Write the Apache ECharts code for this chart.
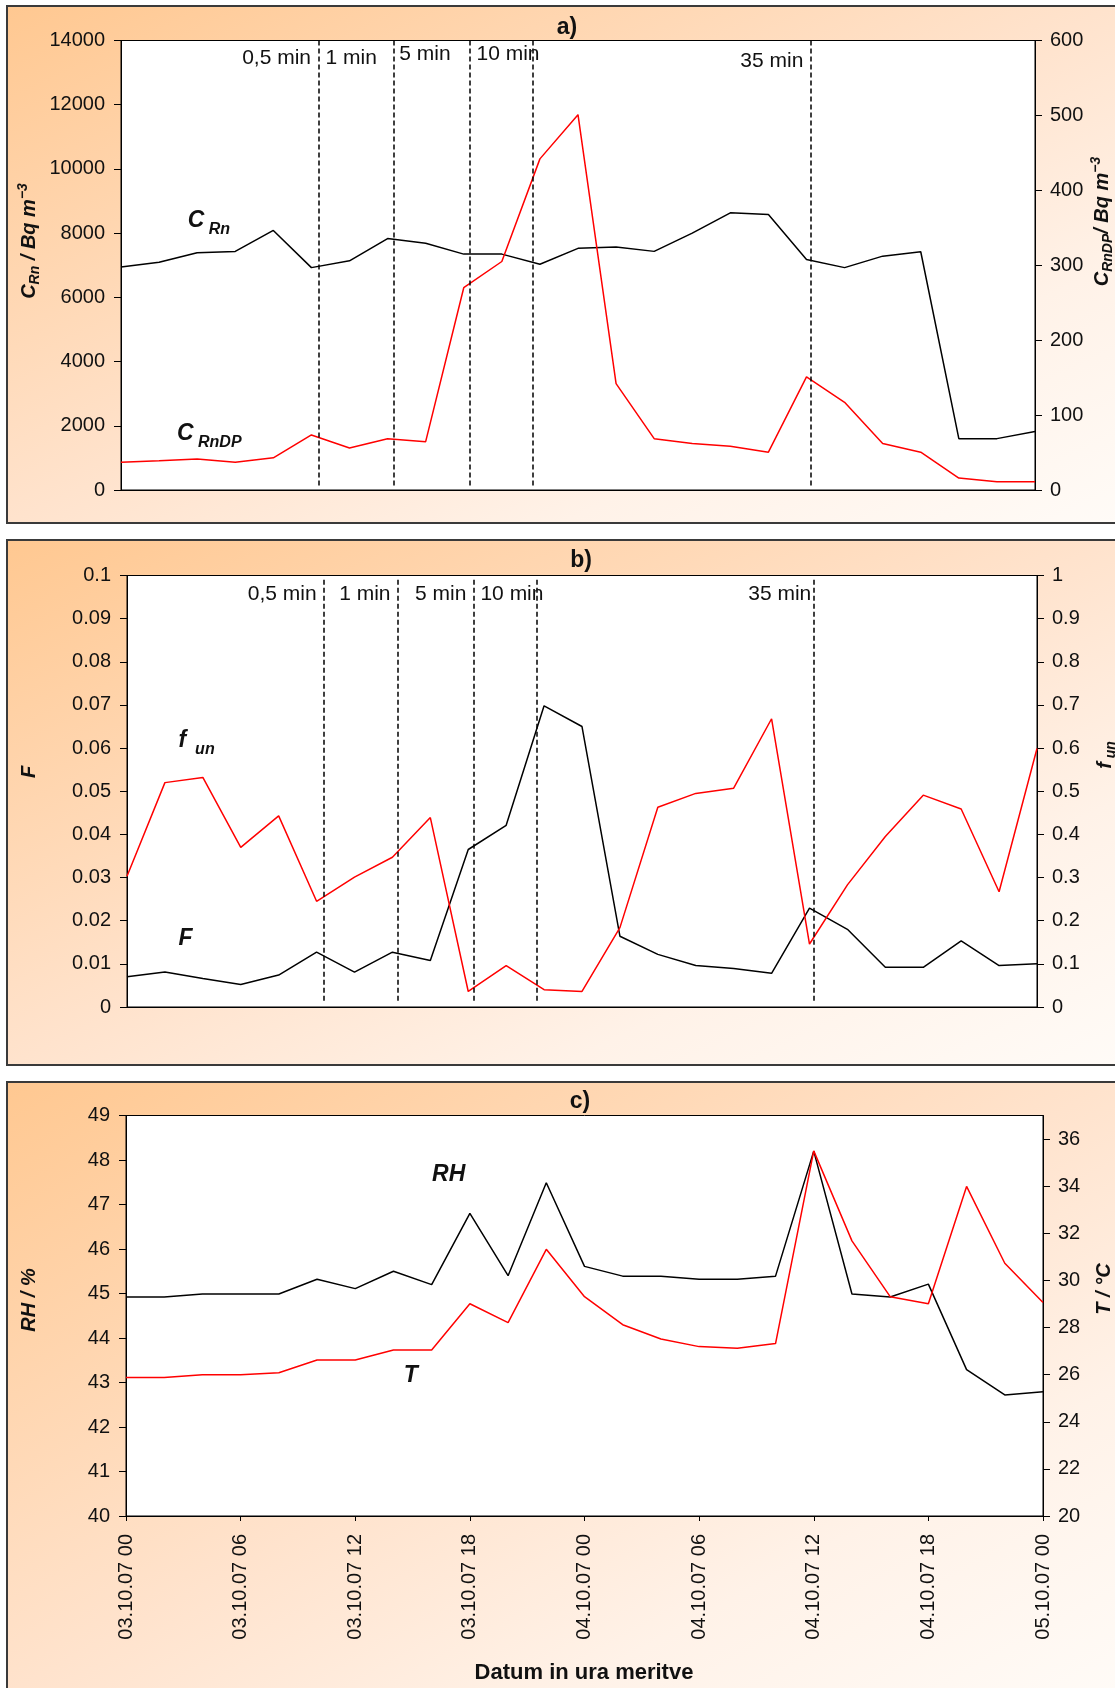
<!DOCTYPE html>
<html><head><meta charset="utf-8">
<script src="https://cdn.jsdelivr.net/npm/echarts@6/dist/echarts.min.js"></script>
<style>html,body{margin:0;padding:0;background:#fff}#c{width:1115px;height:1688px}</style>
</head><body><div id="c"></div>
<script>
// ---------------- data ----------------
const timeLabels = [
 '03.10.07 00','03.10.07 02','03.10.07 04','03.10.07 06','03.10.07 08','03.10.07 10',
 '03.10.07 12','03.10.07 14','03.10.07 16','03.10.07 18','03.10.07 20','03.10.07 22',
 '04.10.07 00','04.10.07 02','04.10.07 04','04.10.07 06','04.10.07 08','04.10.07 10',
 '04.10.07 12','04.10.07 14','04.10.07 16','04.10.07 18','04.10.07 20','04.10.07 22',
 '05.10.07 00'];
const cRn   = [6947,7095,7389,7432,8084,6926,7137,7832,7684,7347,7347,7032,7526,7568,7432,8000,8632,8579,7179,6926,7284,7421,1600,1600,1821];
const cRnDP = [37,39,41.5,37,43,73.5,56,68.5,64.5,270,305,442,501,142,68.5,62,58.5,50.5,151,117,62,50.5,16,11,11];
const F     = [0.0070,0.0081,0.0066,0.0052,0.0074,0.0127,0.0081,0.0127,0.0108,0.0365,0.0421,0.0698,0.0650,0.0164,0.0122,0.0096,0.0089,0.0078,0.0229,0.0180,0.0092,0.0092,0.0153,0.0096,0.0100];
const fun   = [0.303,0.520,0.532,0.370,0.443,0.245,0.301,0.347,0.439,0.036,0.096,0.040,0.036,0.184,0.463,0.495,0.507,0.668,0.146,0.283,0.395,0.491,0.459,0.267,0.599];
const RH    = [44.92,44.92,44.99,44.99,44.99,45.32,45.11,45.50,45.20,46.80,45.40,47.49,45.61,45.39,45.39,45.32,45.32,45.39,48.20,44.99,44.92,45.21,43.29,42.72,42.79];
const T     = [25.88,25.88,26.0,26.0,26.08,26.62,26.62,27.05,27.05,29.01,28.21,31.32,29.31,28.12,27.51,27.19,27.12,27.32,35.50,31.68,29.31,29.01,33.99,30.73,29.06];
// sampling-interval changes (in units of the measurement index)
const intervalChanges = [5.2, 7.15, 9.15, 10.8, 18.1];
const intervalLabels  = ['0,5 min','1 min','5 min','10 min','35 min'];
const tRightTicks = [20,22,24,26,28,30,32,34,36];

// ---------------- layout ----------------
const FONT = '"Liberation Sans", Arial, Helvetica, sans-serif';
const GRIDS = [
  {left:121, top:40.5,  width:914, height:449.5},
  {left:127, top:575.5, width:910, height:431.5},
  {left:126, top:1115.5,width:917, height:400.5}
];
const PANELS = [
  {x:7, y:6,    w:1115, h:517},
  {x:7, y:540,  w:1115, h:525},
  {x:7, y:1082, w:1115, h:612}
];
const lbl = {fontFamily:FONT, fontSize:20, color:'#111'};
const pair = arr => arr.map((v,i)=>[i,v]);

function xAx(gi){
  const show = gi === 2;
  return {
    type:'value', gridIndex:gi, min:0, max:24, interval:3,
    axisLine:{show:true, onZero:false, lineStyle:{color:'#000', width:1}},
    axisTick:{show:show, length:5, lineStyle:{color:'#000', width:1}},
    axisLabel:Object.assign({show:show, rotate:90, margin:18, formatter:v=>timeLabels[v]||''}, lbl),
    splitLine:{show:false}
  };
}
function yAx(gi, pos, min, max, interval, fmt, extraTick, extraLabel){
  return {
    type:'value', gridIndex:gi, position:pos, min:min, max:max, interval:interval,
    axisLine:{show:true, onZero:false, lineStyle:{color:'#000', width:1}},
    axisTick:Object.assign({show:true, inside:false, length:7, lineStyle:{color:'#000', width:1}}, extraTick||{}),
    axisLabel:Object.assign({margin:pos==='left'?16:15, formatter:fmt}, lbl, extraLabel||{}),
    splitLine:{show:false}
  };
}
function vLines(ytop, ybot){
  return {silent:true, symbol:['none','none'], animation:false, label:{show:false},
    emphasis:{disabled:true},
    lineStyle:{color:'#000', type:[5,3], width:1.5},
    data:intervalChanges.map(x=>[{coord:[x,ytop]},{coord:[x,ybot]}])};
}
function line(name, data, xi, yi, color, ml){
  const s = {name:name, type:'line', xAxisIndex:xi, yAxisIndex:yi, data:pair(data),
    symbol:'none', smooth:false, lineStyle:{color:color, width:1.5}, itemStyle:{color:color},
    emphasis:{disabled:true}, silent:true, z:3};
  if (ml) s.markLine = ml;
  return s;
}

const chart = echarts.init(document.getElementById('c'));
const option = {
  animation:false,
  backgroundColor:'#fff',
  grid:GRIDS.map(g=>Object.assign({show:true, backgroundColor:'#fff', borderColor:'#000', borderWidth:1, containLabel:false}, g)),
  xAxis:[xAx(0), xAx(1), xAx(2)],
  yAxis:[
    yAx(0,'left',0,14000,2000, v=>String(v)),
    yAx(0,'right',0,600,100, v=>String(v)),
    yAx(1,'left',0,0.1,0.01, v=>String(+v.toFixed(2))),
    yAx(1,'right',0,1,0.1, v=>String(+v.toFixed(1))),
    yAx(2,'left',40,49,1, v=>String(v)),
    yAx(2,'right',20,37,2, v=>(v>36?'':String(v)), {customValues:tRightTicks}, {customValues:tRightTicks})
  ],
  series:[
    line('CRn', cRn, 0, 0, '#000', vLines(14000, 90)),
    line('CRnDP', cRnDP, 0, 1, '#ff0000'),
    line('F', F, 1, 2, '#000', vLines(0.099, 0.0014)),
    line('fun', fun, 1, 3, '#ff0000'),
    line('RH', RH, 2, 4, '#000'),
    line('T', T, 2, 5, '#ff0000')
  ]
};
chart.setOption(option);

// ---------------- decorations ----------------
const G = [];
PANELS.forEach(p=>{
  const W = 1108, H = p.h;
  const k = 2*W*H/(W*W+H*H);
  G.push({type:'rect', z:-10, silent:true, shape:{x:p.x, y:p.y, width:p.w, height:p.h},
    style:{fill:{type:'linear', global:true, x:p.x, y:p.y, x2:p.x+H*k, y2:p.y+W*k,
      colorStops:[{offset:0,color:'#FFC891'},{offset:0.5,color:'#FFE3CD'},{offset:0.75,color:'#FFF2E8'},{offset:1,color:'#FFFBF7'}]},
      stroke:'#3a3a3a', lineWidth:2}});
});

const base = {fontFamily:FONT, fill:'#111'};
const axRich = {
  m:Object.assign({fontSize:20, fontWeight:'bold', fontStyle:'italic', lineHeight:26}, base),
  s:Object.assign({fontSize:14, fontWeight:'bold', fontStyle:'italic', lineHeight:14, verticalAlign:'bottom'}, base),
  p:Object.assign({fontSize:14, fontWeight:'bold', fontStyle:'italic', lineHeight:14, verticalAlign:'top'}, base)
};
const inRich = {
  m:Object.assign({fontSize:23, fontWeight:'bold', fontStyle:'italic', lineHeight:34}, base),
  s:Object.assign({fontSize:16, fontWeight:'bold', fontStyle:'italic', lineHeight:16, verticalAlign:'bottom'}, base)
};
function txt(x, y, text, opt){
  opt = opt||{};
  return {type:'text', x:x, y:y, z:20, silent:true, rotation:opt.rot||0,
    style:Object.assign({text:text, align:opt.align||'center', verticalAlign:'middle',
      fontFamily:FONT, fontSize:opt.size||20, fontWeight:opt.weight||'normal', fontStyle:opt.style||'normal', fill:'#111'},
      opt.rich?{rich:opt.rich}:{})};
}
const R90 = Math.PI/2;
// axis titles
G.push(txt(29, 241, '{m|C}{s|Rn}{m| / Bq m}{p|−3}', {rot:R90, rich:axRich}));
G.push(txt(1102, 221.5, '{m|C}{s|RnDP}{m|/ Bq m}{p|−3}', {rot:R90, rich:axRich}));
G.push(txt(29, 772, '{m|F}', {rot:R90, rich:axRich}));
G.push(txt(1105, 755, '{m|f}{s| un}', {rot:R90, rich:axRich}));
G.push(txt(29, 1300, '{m|RH / %}', {rot:R90, rich:axRich}));
G.push(txt(1104, 1289, '{m|T / °C}', {rot:R90, rich:axRich}));
// panel titles
G.push(txt(567, 27.5, 'a)', {weight:'bold', size:23}));
G.push(txt(581, 561, 'b)', {weight:'bold', size:23}));
G.push(txt(580, 1101.5, 'c)', {weight:'bold', size:23}));
G.push(txt(584, 1673, 'Datum in ura meritve', {weight:'bold', size:22}));

// interval labels next to dashed lines
const annA = [{t:0,l:0,dx:-8,dy:17.5,a:'right'},{t:1,l:0,dx:6.5,dy:17.5,a:'left'},{t:2,l:1,dx:6,dy:14,a:'left'},{t:3,l:2,dx:7,dy:14,a:'left'},{t:4,l:4,dx:-7,dy:21,a:'right'}];
const annB = [{t:0,l:0,dx:-7.5,dy:18.7,a:'right'},{t:1,l:0,dx:15,dy:18.7,a:'left'},{t:2,l:1,dx:17,dy:18.7,a:'left'},{t:3,l:2,dx:6.5,dy:18.7,a:'left'},{t:4,l:4,dx:-2,dy:18.7,a:'right'}];
[[annA,0],[annB,1]].forEach(([ann,gi])=>{
  ann.forEach(a=>{
    const px = chart.convertToPixel({xAxisIndex:gi}, intervalChanges[a.l]);
    G.push(txt(px+a.dx, GRIDS[gi].top+a.dy, intervalLabels[a.t], {align:a.a, size:21}));
  });
});
// series name labels, anchored in data coordinates
const seriesLabels = [
  {xi:0, yi:0, x:1.75, y:8380, text:'{m|C}{s| Rn}'},
  {xi:0, yi:0, x:1.47, y:1745, text:'{m|C}{s| RnDP}'},
  {xi:1, yi:2, x:1.36, y:0.0617, text:'{m|f}{s|  un}'},
  {xi:1, yi:2, x:1.36, y:0.0158, text:'{m|F}'},
  {xi:2, yi:4, x:8.01, y:47.66, text:'{m|RH}'},
  {xi:2, yi:4, x:7.27, y:43.15, text:'{m|T}'}
];
seriesLabels.forEach(s=>{
  const px = chart.convertToPixel({xAxisIndex:s.xi}, s.x);
  const py = chart.convertToPixel({yAxisIndex:s.yi}, s.y);
  G.push(txt(px, py, s.text, {align:'left', rich:inRich}));
});
chart.setOption({graphic:{elements:G}});
</script></body></html>
